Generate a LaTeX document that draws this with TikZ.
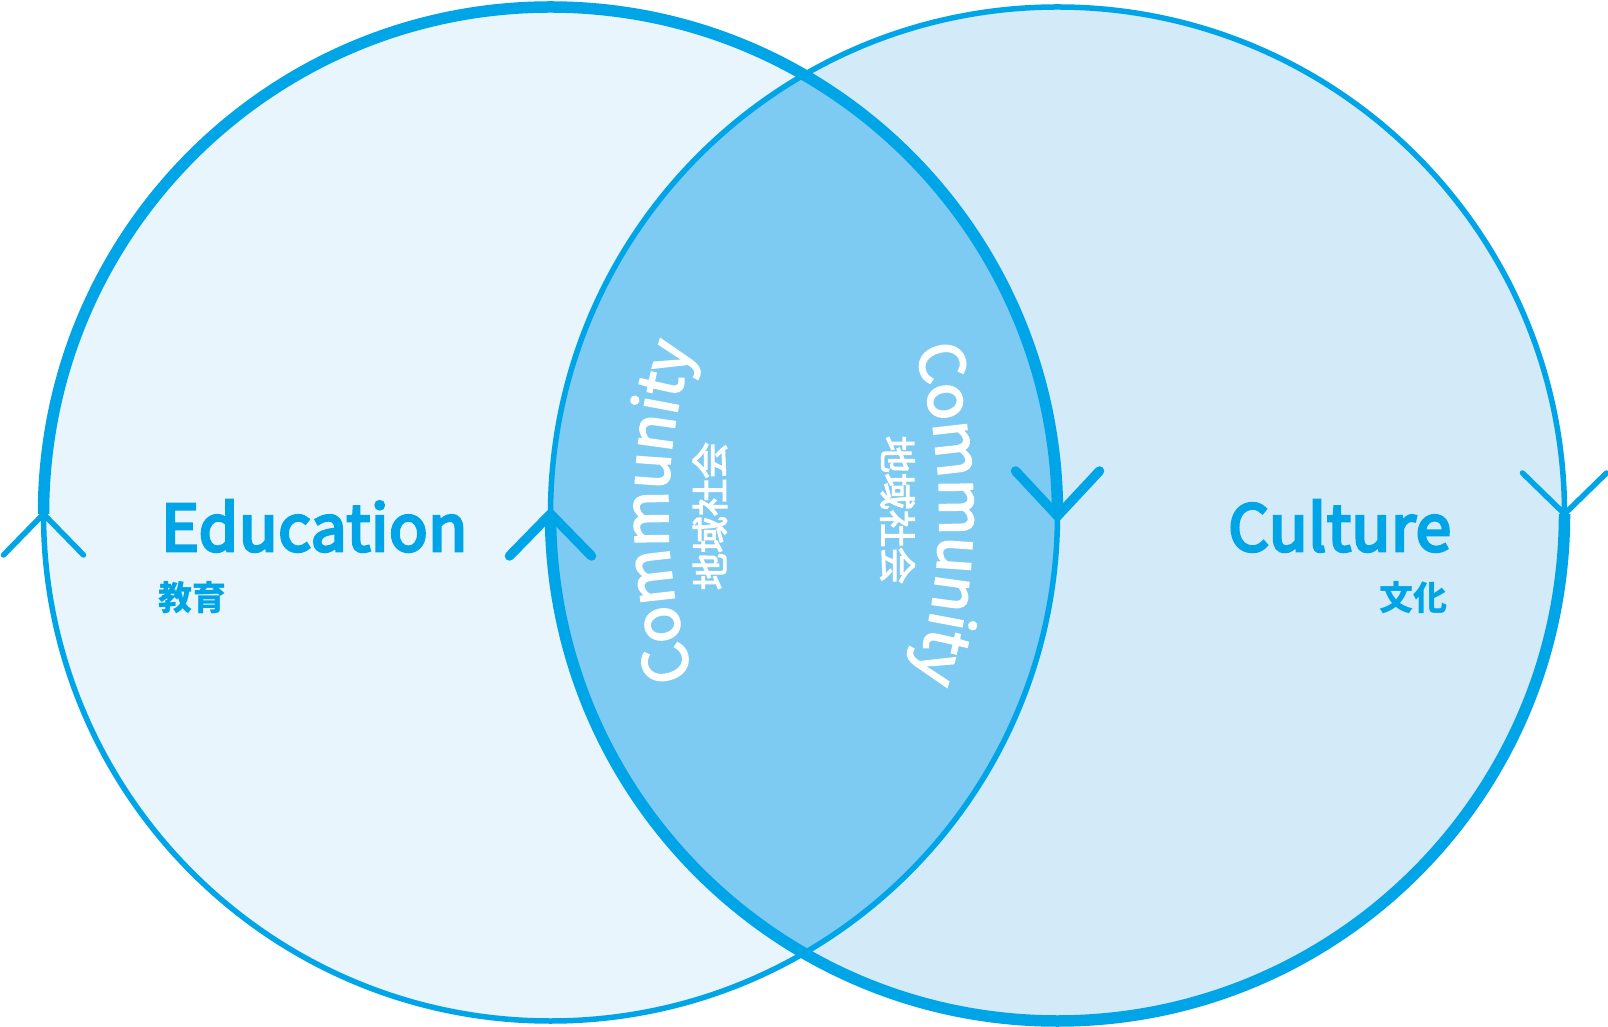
\documentclass[tikz,border=0pt]{standalone}
\usepackage{fontspec}
\setmainfont{Noto Sans CJK JP}
\newfontfamily\semib{Noto Sans CJK JP}[FakeBold=4.5, LetterSpace=0.8]
\newfontfamily\medw{Noto Sans CJK JP}[FakeBold=3]
\usetikzlibrary{decorations.text,calc}
\definecolor{strokeblue}{HTML}{00A5E8}
\definecolor{leftfill}{HTML}{E9F5FC}
\definecolor{rightfill}{HTML}{D3EAF8}
\definecolor{lensfill}{HTML}{7DCBF2}
\tikzset{
  thickring/.style={draw=strokeblue, line width=11.5pt},
  thinring/.style={draw=strokeblue, line width=5.5pt},
  chevthick/.style={draw=strokeblue, line width=9.5pt, line cap=round, line join=miter},
  chevthin/.style={draw=strokeblue, line width=5.5pt, line cap=round, line join=miter},
  titletext/.style={text=strokeblue, inner sep=0pt, font=\semib\fontsize{64}{64}\selectfont},
  subtext/.style={text=strokeblue, inner sep=0pt, font=\bfseries\fontsize{34}{34}\selectfont},
  jptext/.style={text=white, inner sep=0pt, font=\medw\fontsize{37}{37}\selectfont},
}
\begin{document}
\begin{tikzpicture}[x=1pt,y=1pt]
\useasboundingbox (0,0) rectangle (1608,1026);
\coordinate (L) at (550.5,512);
\coordinate (R) at (1057.5,512);
% fills
\fill[leftfill] (L) circle[radius=507pt];
\fill[rightfill] (R) circle[radius=507pt];
\begin{scope}
  \clip (L) circle[radius=507pt];
  \fill[lensfill] (R) circle[radius=507pt];
\end{scope}
% left circle: thick upper half, thin lower half
\draw[thinring] (L) ++(180:507pt) arc[start angle=180, end angle=360, radius=507pt];
\draw[thickring] (L) ++(180:507pt) arc[start angle=180, end angle=0, radius=507pt];
% right circle: thin upper half, thick lower half
\draw[thinring] (R) ++(180:507pt) arc[start angle=180, end angle=0, radius=507pt];
\draw[thickring] (R) ++(180:507pt) arc[start angle=180, end angle=360, radius=507pt];
% chevrons
\coordinate (la) at (43.5,512);
\coordinate (ra) at (1057.5,510);
\coordinate (lb) at (550.5,512);
\coordinate (rb) at (1564.5,512);
\draw[chevthin] ($(la)+(-40,-41)$) -- (la) -- ($(la)+(40,-41)$);
\draw[chevthick] ($(ra)+(-42,45)$) -- (ra) -- ($(ra)+(42,45)$);
\draw[chevthick] ($(lb)+(-41,-42)$) -- (lb) -- ($(lb)+(41,-42)$);
\draw[chevthin] ($(rb)+(-42,41)$) -- (rb) -- ($(rb)+(42,41)$);
% labels
\node[titletext, anchor=base west] (edu) at (161,475) {Education};
\node[subtext, anchor=west] (eduj) at (158,428) {教育};
\node[titletext, anchor=base west] (cul) at (1228,475) {Culture};
\node[subtext, anchor=east] (culj) at (1448,428) {文化};
% community texts
\path[decorate, decoration={text along path, text align=center, text color=white,
  text={|\medw\fontsize{61}{61}\selectfont|Community}}]
  (1228,514) ++(200:560pt) arc[start angle=200, end angle=160, radius=560pt];
\path[decorate, decoration={text along path, text align=center, text color=white,
  text={|\medw\fontsize{61}{61}\selectfont|Community}}]
  (379.5,512) ++(20:560pt) arc[start angle=20, end angle=-20, radius=560pt];
\node[jptext, rotate=90] (jpl) at (710,510) {地域社会};
\node[jptext, rotate=-90] (jpr) at (897.5,516) {地域社会};
\end{tikzpicture}
\end{document}
